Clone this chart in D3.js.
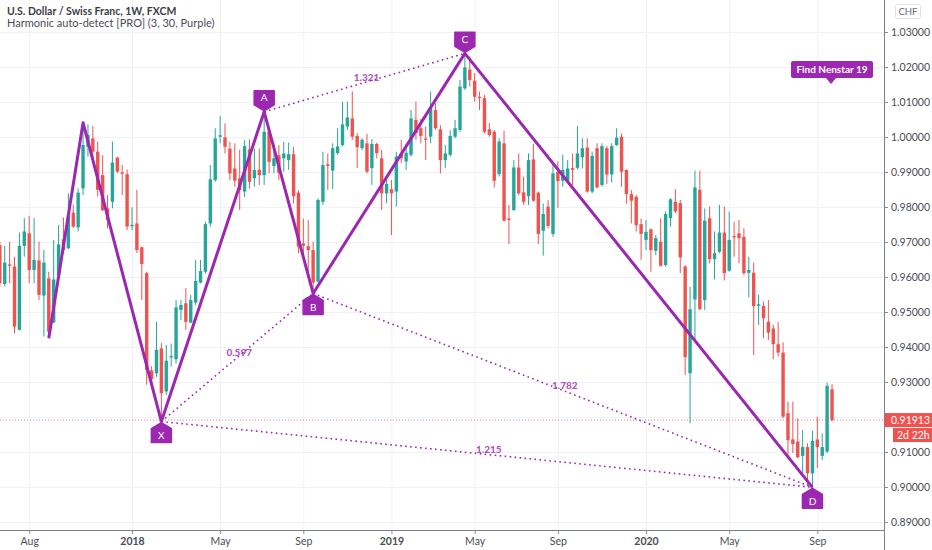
<!DOCTYPE html>
<html>
<head>
<meta charset="utf-8">
<script src="https://cdn.jsdelivr.net/npm/d3@7"></script>
<style>
  body { margin: 0; background: #fff; }
  svg { display: block; font-family: Lato, "Open Sans", sans-serif; }
</style>
</head>
<body>
<svg id="chart" width="932" height="550"></svg>
<script>
// Weekly USD/CHF candles, first bar starts week of 2017-06-25
const firstWeek = '2017-06-25';

const open = [
  0.9691, 0.9580, 0.9636, 0.9630, 0.9449, 0.9689, 0.9725, 0.9620, 0.9647, 0.9547,
  0.9596, 0.9470, 0.9604, 0.9708, 0.9682, 0.9784, 0.9742, 0.9853, 0.9972, 0.9996,
  0.9958, 0.9891, 0.9796, 0.9815, 0.9941, 0.9899, 0.9894, 0.9745, 0.9753, 0.9685,
  0.9611, 0.9333, 0.9325, 0.9396, 0.9273, 0.9370, 0.9365, 0.9506, 0.9525, 0.9470,
  0.9527, 0.9584, 0.9615, 0.9753, 0.9877, 1.0001, 0.9999, 0.9967, 0.9910, 0.9882,
  0.9844, 0.9965, 0.9882, 0.9906, 0.9891, 1.0015, 0.9917, 0.9948, 0.9939, 0.9934,
  0.9951, 0.9841, 0.9696, 0.9688, 0.9677, 0.9587, 0.9815, 0.9922, 0.9904, 0.9954,
  0.9977, 1.0030, 1.0053, 1.0003, 0.9968, 0.9982, 0.9911, 0.9980, 0.9939, 0.9839,
  0.9851, 0.9844, 0.9952, 0.9930, 0.9949, 1.0049, 1.0025, 0.9996, 1.0001, 1.0077,
  1.0022, 0.9934, 0.9949, 1.0001, 1.0020, 1.0139, 1.0193, 1.0161, 1.0115, 1.0111,
  1.0022, 1.0015, 0.9894, 0.9982, 0.9767, 0.9791, 0.9913, 0.9842, 0.9831, 0.9936,
  0.9841, 0.9732, 0.9801, 0.9723, 0.9901, 0.9875, 0.9875, 0.9911, 0.9912, 0.9942,
  0.9970, 0.9844, 0.9968, 0.9863, 0.9968, 0.9893, 0.9977, 1.0001, 0.9906, 0.9837,
  0.9829, 0.9751, 0.9706, 0.9736, 0.9675, 0.9701, 0.9634, 0.9768, 0.9815, 0.9811,
  0.9630, 0.9325, 0.9536, 0.9849, 0.9534, 0.9768, 0.9651, 0.9672, 0.9727, 0.9618,
  0.9717, 0.9725, 0.9715, 0.9612, 0.9612, 0.9518, 0.9517, 0.9472, 0.9453, 0.9408,
  0.9384, 0.9211, 0.9136, 0.9130, 0.9089, 0.9114, 0.9039, 0.9136, 0.9089, 0.9101,
  0.9279
];
const high = [
  0.9701, 0.9689, 0.9701, 0.9658, 0.9727, 0.9768, 0.9774, 0.9768, 0.9701, 0.9677,
  0.9615, 0.9706, 0.9749, 0.9770, 0.9839, 0.9806, 0.9853, 1.0041, 1.0036, 1.0031,
  0.9987, 0.9948, 0.9834, 0.9987, 0.9944, 0.9920, 0.9907, 0.9799, 0.9849, 0.9687,
  0.9615, 0.9345, 0.9472, 0.9411, 0.9406, 0.9410, 0.9534, 0.9534, 0.9568, 0.9549,
  0.9649, 0.9649, 0.9758, 0.9920, 1.0025, 1.0060, 1.0039, 0.9986, 0.9982, 0.9963,
  0.9991, 0.9993, 0.9967, 0.9967, 1.0072, 1.0029, 0.9982, 0.9977, 0.9986, 0.9984,
  0.9972, 0.9848, 0.9767, 0.9763, 0.9701, 0.9825, 0.9958, 0.9953, 0.9982, 1.0025,
  1.0101, 1.0101, 1.0130, 1.0011, 0.9996, 1.0009, 0.9994, 0.9984, 0.9963, 0.9877,
  0.9877, 0.9958, 0.9992, 0.9977, 1.0077, 1.0101, 1.0051, 1.0030, 1.0130, 1.0096,
  1.0034, 0.9977, 1.0020, 1.0049, 1.0163, 1.0239, 1.0230, 1.0182, 1.0130, 1.0120,
  1.0040, 1.0020, 0.9996, 1.0018, 0.9806, 0.9934, 0.9953, 0.9887, 0.9953, 0.9980,
  0.9844, 0.9810, 0.9820, 0.9920, 0.9930, 0.9949, 0.9934, 0.9953, 1.0031, 0.9996,
  0.9996, 0.9958, 0.9982, 0.9982, 0.9974, 0.9982, 1.0025, 1.0010, 0.9907, 0.9849,
  0.9834, 0.9767, 0.9763, 0.9739, 0.9720, 0.9768, 0.9787, 0.9825, 0.9851, 0.9820,
  0.9634, 0.9572, 0.9904, 0.9904, 0.9796, 0.9801, 0.9730, 0.9806, 0.9801, 0.9787,
  0.9758, 0.9763, 0.9739, 0.9658, 0.9641, 0.9549, 0.9530, 0.9534, 0.9463, 0.9472,
  0.9413, 0.9244, 0.9244, 0.9196, 0.9163, 0.9125, 0.9161, 0.9201, 0.9153, 0.9298,
  0.9294
];
const low = [
  0.9573, 0.9573, 0.9582, 0.9439, 0.9447, 0.9658, 0.9582, 0.9582, 0.9534, 0.9430,
  0.9425, 0.9468, 0.9601, 0.9673, 0.9679, 0.9740, 0.9730, 0.9834, 0.9944, 0.9934,
  0.9830, 0.9788, 0.9739, 0.9796, 0.9896, 0.9834, 0.9734, 0.9734, 0.9668, 0.9534,
  0.9292, 0.9287, 0.9315, 0.9187, 0.9263, 0.9344, 0.9353, 0.9477, 0.9449, 0.9468,
  0.9520, 0.9582, 0.9610, 0.9744, 0.9872, 0.9982, 0.9953, 0.9877, 0.9858, 0.9791,
  0.9829, 0.9853, 0.9858, 0.9863, 0.9863, 0.9896, 0.9896, 0.9877, 0.9901, 0.9906,
  0.9810, 0.9668, 0.9658, 0.9601, 0.9553, 0.9584, 0.9806, 0.9849, 0.9851, 0.9950,
  0.9973, 1.0020, 0.9992, 0.9911, 0.9963, 0.9896, 0.9863, 0.9939, 0.9792, 0.9811,
  0.9720, 0.9801, 0.9925, 0.9906, 0.9944, 0.9992, 0.9982, 0.9934, 0.9982, 1.0020,
  0.9896, 0.9911, 0.9944, 0.9996, 1.0015, 1.0134, 1.0144, 1.0101, 1.0077, 1.0010,
  1.0001, 0.9856, 0.9887, 0.9758, 0.9694, 0.9789, 0.9834, 0.9806, 0.9806, 0.9815,
  0.9694, 0.9661, 0.9739, 0.9715, 0.9798, 0.9858, 0.9872, 0.9863, 0.9907, 0.9910,
  0.9841, 0.9839, 0.9853, 0.9858, 0.9866, 0.9870, 0.9974, 0.9858, 0.9809, 0.9753,
  0.9730, 0.9649, 0.9677, 0.9615, 0.9663, 0.9630, 0.9630, 0.9744, 0.9782, 0.9611,
  0.9320, 0.9182, 0.9420, 0.9506, 0.9506, 0.9639, 0.9593, 0.9668, 0.9590, 0.9615,
  0.9658, 0.9639, 0.9606, 0.9542, 0.9377, 0.9463, 0.9425, 0.9420, 0.9365, 0.9373,
  0.9196, 0.9082, 0.9097, 0.9082, 0.9030, 0.9006, 0.8999, 0.9054, 0.9077, 0.9097,
  0.9187
];
const close = [
  0.9582, 0.9641, 0.9632, 0.9458, 0.9689, 0.9730, 0.9620, 0.9649, 0.9549, 0.9641,
  0.9444, 0.9593, 0.9693, 0.9677, 0.9774, 0.9744, 0.9841, 0.9977, 1.0006, 0.9958,
  0.9849, 0.9791, 0.9763, 0.9927, 0.9901, 0.9895, 0.9744, 0.9749, 0.9677, 0.9637,
  0.9334, 0.9308, 0.9392, 0.9268, 0.9361, 0.9374, 0.9513, 0.9520, 0.9472, 0.9534,
  0.9589, 0.9617, 0.9751, 0.9879, 0.9996, 1.0005, 0.9972, 0.9896, 0.9875, 0.9848,
  0.9974, 0.9872, 0.9906, 0.9891, 1.0015, 0.9929, 0.9939, 0.9898, 0.9953, 0.9951,
  0.9831, 0.9687, 0.9689, 0.9677, 0.9584, 0.9820, 0.9920, 0.9917, 0.9968, 0.9973,
  1.0036, 1.0056, 1.0001, 0.9971, 0.9992, 0.9901, 0.9980, 0.9954, 0.9839, 0.9866,
  0.9839, 0.9944, 0.9939, 0.9955, 1.0053, 1.0011, 1.0003, 0.9992, 1.0082, 1.0025,
  0.9934, 0.9953, 1.0003, 1.0025, 1.0144, 1.0199, 1.0163, 1.0115, 1.0111, 1.0015,
  1.0006, 0.9875, 0.9987, 0.9761, 0.9763, 0.9913, 0.9839, 0.9815, 0.9934, 0.9818,
  0.9723, 0.9780, 0.9746, 0.9896, 0.9874, 0.9906, 0.9910, 0.9906, 0.9953, 0.9968,
  0.9844, 0.9946, 0.9856, 0.9974, 0.9893, 0.9974, 0.9998, 0.9901, 0.9837, 0.9818,
  0.9748, 0.9723, 0.9729, 0.9677, 0.9711, 0.9632, 0.9780, 0.9822, 0.9787, 0.9656,
  0.9371, 0.9508, 0.9856, 0.9508, 0.9761, 0.9651, 0.9668, 0.9727, 0.9611, 0.9706,
  0.9713, 0.9711, 0.9611, 0.9620, 0.9517, 0.9522, 0.9482, 0.9441, 0.9408, 0.9384,
  0.9201, 0.9134, 0.9123, 0.9085, 0.9114, 0.9039, 0.9132, 0.9114, 0.9114, 0.9289,
  0.91913
];

// Harmonic pattern pivots (bar index, which extreme, label)
const pivotBars   = [10, 17, 33, 54, 64, 95, 166];
const pivotSide   = ['low', 'high', 'low', 'high', 'low', 'high', 'low'];
const pivotLabels = ['', '', 'X', 'A', 'B', 'C', 'D'];

// Ratio legs: from label, to label, ratio text
const ratioFrom = ['X', 'A', 'B', 'X'];
const ratioTo   = ['B', 'C', 'D', 'D'];
const ratioText = ['0.597', '1.321', '1.782', '1.215'];

// Time axis ticks
const xTickDates  = ['2017-08-06', '2017-12-31', '2018-05-06', '2018-09-02', '2019-01-06',
                     '2019-05-05', '2019-09-01', '2020-01-05', '2020-05-03', '2020-09-06'];
const xTickLabels = ['Aug', '2018', 'May', 'Sep', '2019', 'May', 'Sep', '2020', 'May', 'Sep'];

const drawChart = () => {
    const svg = d3.select('#chart');
    const plotW = 884;
    const plotH = 530;
    const up = '#26a69a';
    const down = '#ef5350';
    const purple = '#9c27b0';
    const parse = d3.timeParse('%Y-%m-%d');

    const start = parse(firstWeek);
    const bars = open.map((o, i) => ({
        date: d3.timeWeek.offset(start, i),
        open: o, high: high[i], low: low[i], close: close[i]
    }));
    const last = bars[bars.length - 1];

    const xScale = d3.scaleTime()
        .domain([parse('2017-12-31'), parse('2020-01-05')])
        .range([132, 646]);
    const yScale = d3.scaleLinear()
        .domain([0.89, 1.03])
        .range([522, 32]);

    const xTicks = xTickDates.map(parse);

    // clip for the price pane
    svg.append('defs').append('clipPath').attr('id', 'pane')
        .append('rect').attr('width', plotW).attr('height', plotH);

    // Gridlines
    const yGrid = d3.axisRight(yScale).ticks(14).tickSize(plotW).tickFormat('');
    svg.append('g')
        .attr('class', 'grid')
        .call(yGrid)
        .call(g => g.select('.domain').remove())
        .call(g => g.selectAll('line').attr('stroke', '#eef1f6'));

    const xGrid = d3.axisBottom(xScale).tickValues(xTicks).tickSize(plotH).tickFormat('');
    svg.append('g')
        .attr('class', 'grid')
        .call(xGrid)
        .call(g => g.select('.domain').remove())
        .call(g => g.selectAll('line').attr('stroke', '#eef1f6'));

    // Header
    svg.append('text')
        .attr('x', 7).attr('y', 15)
        .attr('font-size', 10.5).attr('font-weight', 700).attr('fill', '#3a3d45')
        .text('U.S. Dollar / Swiss Franc, 1W, FXCM');
    svg.append('text')
        .attr('x', 7).attr('y', 27)
        .attr('font-size', 11).attr('fill', '#4a4d56')
        .text('Harmonic auto-detect [PRO] (3, 30, Purple)');

    const pane = svg.append('g').attr('clip-path', 'url(#pane)');

    // Candles
    const bodyW = 3.4;
    const candle = pane.append('g').selectAll('g')
        .data(bars)
        .join('g')
        .attr('fill', d => d.close >= d.open ? up : down)
        .attr('stroke', d => d.close >= d.open ? up : down);

    candle.append('line')
        .attr('x1', d => xScale(d.date)).attr('x2', d => xScale(d.date))
        .attr('y1', d => yScale(d.high)).attr('y2', d => yScale(d.low))
        .attr('stroke-width', 1);

    candle.append('rect')
        .attr('stroke', 'none')
        .attr('x', d => xScale(d.date) - bodyW / 2)
        .attr('width', bodyW)
        .attr('y', d => yScale(Math.max(d.open, d.close)))
        .attr('height', d => Math.max(1, Math.abs(yScale(d.open) - yScale(d.close))));

    // Last price dotted line
    pane.append('line')
        .attr('x1', 0).attr('x2', plotW)
        .attr('y1', yScale(last.close)).attr('y2', yScale(last.close))
        .attr('stroke', down).attr('stroke-opacity', 0.8)
        .attr('stroke-dasharray', '1,2');

    // Pattern pivots
    const pivots = pivotBars.map((b, i) => ({
        label: pivotLabels[i],
        side: pivotSide[i],
        x: xScale(bars[b].date),
        y: yScale(pivotSide[i] === 'high' ? bars[b].high : bars[b].low)
    }));
    const byLabel = {};
    pivots.forEach(p => { if (p.label) byLabel[p.label] = p; });

    // Dotted ratio legs
    ratioFrom.forEach((f, i) => {
        const a = byLabel[f];
        const b = byLabel[ratioTo[i]];
        pane.append('line')
            .attr('x1', a.x).attr('y1', a.y)
            .attr('x2', b.x).attr('y2', b.y)
            .attr('stroke', purple).attr('stroke-width', 1.6)
            .attr('stroke-dasharray', '1.6,3.4');
        pane.append('text')
            .attr('x', (a.x + b.x) / 2 + 2)
            .attr('y', (a.y + b.y) / 2 - 1.5)
            .attr('text-anchor', 'middle')
            .attr('font-size', 10).attr('font-weight', 900)
            .attr('fill', purple).attr('fill-opacity', 0.8)
            .text(ratioText[i]);
    });

    // Zig-zag legs
    const zig = d3.line().x(d => d.x).y(d => d.y);
    pane.append('path')
        .attr('d', zig(pivots))
        .attr('fill', 'none')
        .attr('stroke', purple)
        .attr('stroke-width', 3)
        .attr('stroke-linejoin', 'round');

    // Pivot label boxes
    pivots.filter(p => p.label).forEach(p => {
        const hw = 10;
        const s = p.side === 'high' ? -1 : 1;
        const tip = p.y + s * 1;
        const edge = p.y + s * 7;
        const far = p.y + s * 21;
        const path = `M${p.x},${tip} L${p.x + hw},${edge} L${p.x + hw},${far} L${p.x - hw},${far} L${p.x - hw},${edge} Z`;
        svg.append('path')
            .attr('d', path)
            .attr('fill', purple)
            .attr('stroke', purple)
            .attr('stroke-width', 1.5)
            .attr('stroke-linejoin', 'round');
        svg.append('text')
            .attr('x', p.x)
            .attr('y', (edge + far) / 2 + 3.5)
            .attr('text-anchor', 'middle')
            .attr('font-size', 10)
            .attr('fill', '#fff')
            .text(p.label);
    });

    // Find Nenstar label
    const fn = svg.append('g');
    fn.append('rect')
        .attr('x', 791).attr('y', 61).attr('width', 82).attr('height', 17)
        .attr('rx', 2).attr('fill', purple);
    fn.append('path')
        .attr('d', 'M826,78 L836,78 L831,84 Z')
        .attr('fill', purple);
    fn.append('text')
        .attr('x', 832).attr('y', 73).attr('text-anchor', 'middle')
        .attr('font-size', 10).attr('font-weight', 700).attr('fill', '#fff')
        .text('Find Nenstar 19');

    // Price axis (labels hidden where the last-price tag sits)
    const yAxis = d3.axisRight(yScale).ticks(14).tickSize(4).tickPadding(3)
        .tickFormat(d3.format('.5f'));
    svg.append('g')
        .attr('transform', `translate(${plotW}, 0)`)
        .call(yAxis)
        .call(g => g.select('.domain').remove())
        .call(g => g.selectAll('line').attr('stroke', '#8a8d95'))
        .call(g => g.selectAll('text')
            .attr('fill', '#4a4d56').attr('font-size', 10.5)
            .attr('font-family', 'Lato, "Open Sans", sans-serif'))
        .call(g => g.selectAll('.tick')
            .filter(d => Math.abs(d - last.close) < 0.005)
            .remove());

    // Time axis
    const xAxis = d3.axisBottom(xScale).tickValues(xTicks).tickSize(4).tickPadding(4)
        .tickFormat((d, i) => xTickLabels[i]);
    svg.append('g')
        .attr('transform', `translate(0, ${plotH})`)
        .call(xAxis)
        .call(g => g.select('.domain').remove())
        .call(g => g.selectAll('line').attr('stroke', '#8a8d95'))
        .call(g => g.selectAll('text')
            .attr('fill', '#4a4d56').attr('font-size', 10.5)
            .attr('font-family', 'Lato, "Open Sans", sans-serif')
            .attr('font-weight', (d, i) => /^\d{4}$/.test(xTickLabels[i]) ? 700 : 400));

    // axis borders
    svg.append('line')
        .attr('x1', plotW + 0.5).attr('x2', plotW + 0.5)
        .attr('y1', 0).attr('y2', 550)
        .attr('stroke', '#7d8089');
    svg.append('line')
        .attr('x1', 0).attr('x2', plotW)
        .attr('y1', plotH + 0.5).attr('y2', plotH + 0.5)
        .attr('stroke', '#7d8089');

    // Currency tag
    svg.append('rect')
        .attr('x', 895.5).attr('y', 4.5).attr('width', 25).attr('height', 14)
        .attr('rx', 2).attr('fill', '#fff').attr('stroke', '#dfe2e8');
    svg.append('text')
        .attr('x', 908).attr('y', 15).attr('text-anchor', 'middle')
        .attr('font-size', 9.5).attr('fill', '#6a6d75')
        .text('CHF');

    // Last price tags
    const ly = yScale(last.close);
    svg.append('rect')
        .attr('x', plotW + 1).attr('y', ly - 7).attr('width', 932 - plotW).attr('height', 14)
        .attr('fill', down);
    svg.append('text')
        .attr('x', 891).attr('y', ly + 4)
        .attr('font-size', 10.5).attr('fill', '#fff')
        .text(d3.format('.5f')(last.close));
    svg.append('rect')
        .attr('x', 893).attr('y', ly + 8).attr('width', 39).attr('height', 14)
        .attr('fill', down);
    svg.append('text')
        .attr('x', 897).attr('y', ly + 19)
        .attr('font-size', 10.5).attr('fill', '#fff')
        .text('2d 22h');
};

drawChart();
</script>
</body>
</html>
